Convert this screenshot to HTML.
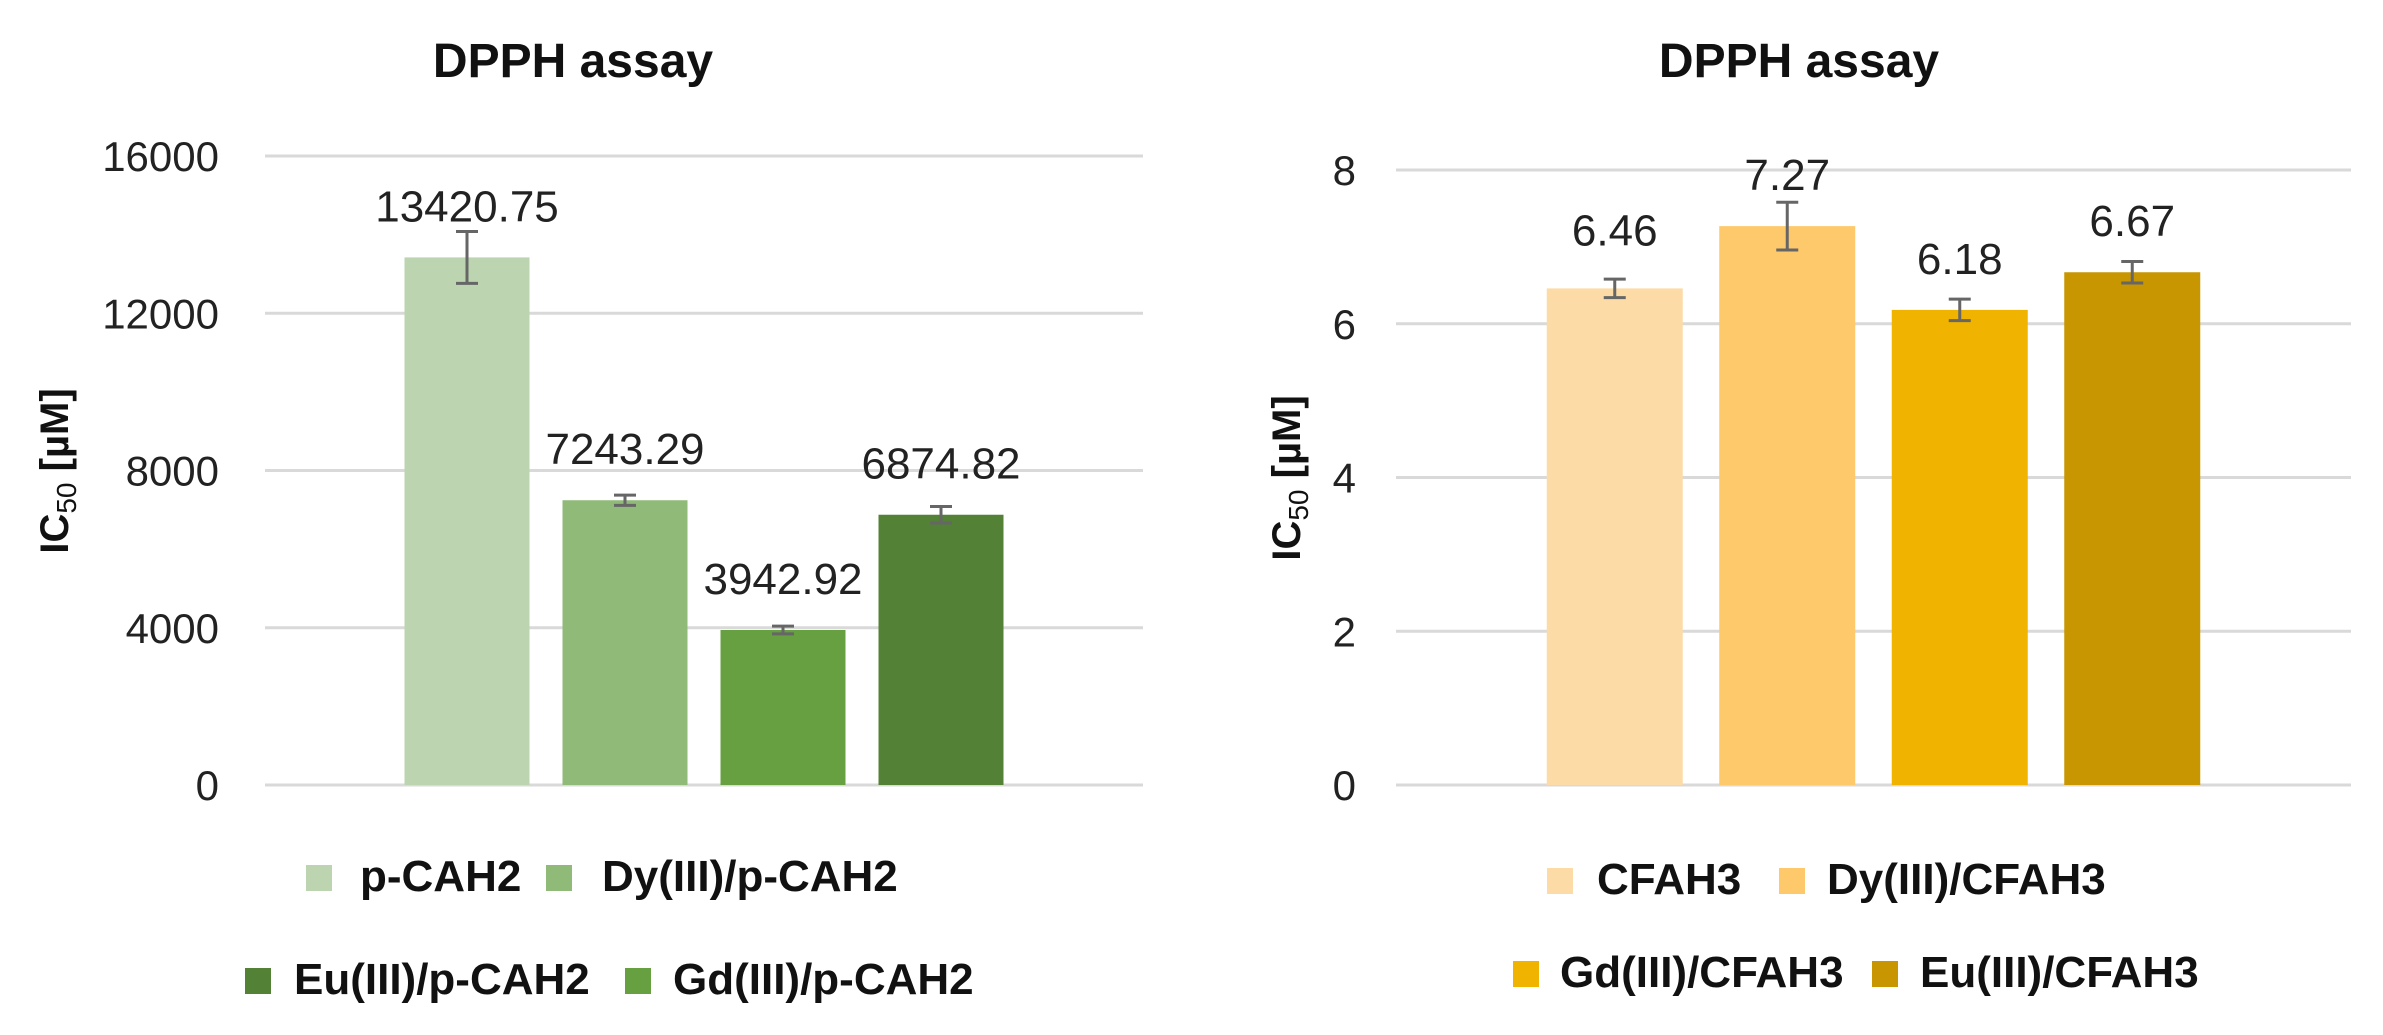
<!DOCTYPE html>
<html><head><meta charset="utf-8"><style>
html,body{margin:0;padding:0;background:#fff;}
svg{display:block;font-family:"Liberation Sans",sans-serif;}
</style></head><body>
<svg id="c" width="2383" height="1035" viewBox="0 0 2383 1035"></svg>
<script>
const leftCategories=["p-CAH2","Dy(III)/p-CAH2","Gd(III)/p-CAH2","Eu(III)/p-CAH2"];
const leftValues=[13420.75,7243.29,3942.92,6874.82];
const leftErrors=[660,130,100,210];
const leftLabels=["13420.75","7243.29","3942.92","6874.82"];
const leftTicks=[0,4000,8000,12000,16000];
const rightCategories=["CFAH3","Dy(III)/CFAH3","Gd(III)/CFAH3","Eu(III)/CFAH3"];
const rightValues=[6.46,7.27,6.18,6.67];
const rightErrors=[0.12,0.31,0.14,0.14];
const rightLabels=["6.46","7.27","6.18","6.67"];
const rightTicks=[0,2,4,6,8];

const NS="http://www.w3.org/2000/svg";
const svg=document.getElementById('c');
function mk(tag,attrs,parent,text){const e=document.createElementNS(NS,tag);for(const k in attrs)e.setAttribute(k,attrs[k]);if(text!==undefined)e.textContent=text;(parent||svg).appendChild(e);return e;}

function chart(o){
  const g=mk('g',{});
  
  
  const y=v=>o.y0-(v/o.max)*(o.y0-o.yTop);
  const t=mk('text',{x:o.titleX,y:77,'text-anchor':'middle','font-size':48,'font-weight':'bold',fill:'#111'},g,'DPPH assay');
  
  
  o.ticks.forEach(v=>{
    const l=mk('line',{x1:o.x0,x2:o.x1,y1:y(v),y2:y(v),stroke:'#d9d9d9','stroke-width':3},g);
    
    
    const tx=mk('text',{x:o.tickX,y:y(v)+15,'text-anchor':'end','font-size':42,fill:'#222'},g,String(v));
    
    
  });
  const at=mk('text',{transform:`translate(${o.axX+14},${o.axY}) rotate(-90)`,'text-anchor':'middle','font-size':40,'font-weight':'bold',fill:'#111'},g);
  
  
  mk('tspan',{},at,'IC');
  mk('tspan',{'font-size':28,'font-weight':'normal',dy:8},at,'50');
  mk('tspan',{dy:-8},at,' [µM]');
  const cx=(o.x0+o.x1)/2, n=o.values.length;
  o.values.forEach((v,i)=>{
    const c=cx+(i-(n-1)/2)*o.step;
    const r=mk('rect',{x:c-o.bw/2,y:y(v),width:o.bw,height:o.y0-y(v),fill:o.colors[i]},g);
    
    
    const eT=y(v+o.errs[i]), eB=y(v-o.errs[i]);
    const eb=mk('path',{d:`M${c-11},${eT}H${c+11}M${c},${eT}V${eB}M${c-11},${eB}H${c+11}`,stroke:'#666','stroke-width':3,fill:'none'},g);
    
    
    const off=(o.id==='right'&&i===0)?43:36;
    const lb=mk('text',{x:c,y:y(v)-off,'text-anchor':'middle','font-size':44,fill:'#222'},g,o.labels[i]);
    
    
  });
  o.legend.forEach(L=>{
    const idx=L[0];
    const sq=mk('rect',{x:L[1],y:L[3]-26,width:26,height:26,fill:o.colors[idx]},g);
    
    
    const lt=mk('text',{x:L[2],y:L[3],'font-size':44,'font-weight':'bold',fill:'#111'},g,o.cats[idx]);
    
    
  });
}
chart({id:'left',values:leftValues,errs:leftErrors,labels:leftLabels,cats:leftCategories,ticks:leftTicks,max:16000,
  y0:785,yTop:156,x0:265,x1:1143,step:158,bw:125,tickX:219,titleX:573,axX:54,axY:471,
  colors:['#bcd5b0','#8fba78','#66a040','#538135'],
  legend:[[0,306,360,891],[1,546,602,891],[3,245,294,994],[2,625,673,994]]});
chart({id:'right',values:rightValues,errs:rightErrors,labels:rightLabels,cats:rightCategories,ticks:rightTicks,max:8,
  y0:785,yTop:170,x0:1396,x1:2351,step:172.5,bw:136,tickX:1356,titleX:1799,axX:1286,axY:478,
  colors:['#fddba7','#fec96b','#efb300','#c89600'],
  legend:[[0,1547,1597,894],[1,1779,1827,894],[2,1513,1560,987],[3,1872,1920,987]]});
</script>
</body></html>
